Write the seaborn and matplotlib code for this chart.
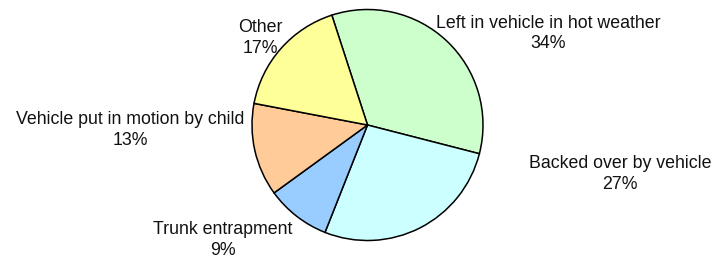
import numpy as np
import pandas as pd
import seaborn as sns
import matplotlib.pyplot as plt

# data
categories = ["Left in vehicle in hot weather", "Backed over by vehicle", "Trunk entrapment",
              "Vehicle put in motion by child", "Other"]
shares = [34, 27, 9, 13, 17]
colors = ["#CCFFCC", "#CCFFFF", "#99CCFF", "#FFCC99", "#FFFF99"]

# label spots in pie units (radius = 1)
label_pos = [(1.563, 0.792), (2.186, -0.424), (-1.251, -0.996), (-2.056, -0.043), (-0.931, 0.753)]

df = pd.DataFrame({"category": categories, "share": shares})

sns.set_theme(style="white")
plt.rcParams["font.family"] = ["Liberation Sans", "DejaVu Sans"]

fig = plt.figure(figsize=(7.17, 2.58), dpi=100)
ax = fig.add_axes([0, 0, 1, 1])

ax.pie(df["share"], colors=colors, startangle=108, counterclock=False,
       wedgeprops=dict(edgecolor="black", linewidth=1.1))

for (x, y), name, pct in zip(label_pos, df["category"], df["share"]):
    ax.text(x, y, f"{name}\n{pct}%", ha="center", va="center", fontsize=12.8,
            linespacing=1.25, color="#111111")

# pixel-matched limits: center (367.5,125) px, radius 115.5 px
ax.set_xlim(-367.5 / 115.5, (717 - 367.5) / 115.5)
ax.set_ylim(-133 / 115.5, 125 / 115.5)
ax.set_aspect("auto")
ax.axis("off")

fig.savefig("out.png", dpi=100, facecolor="white")
